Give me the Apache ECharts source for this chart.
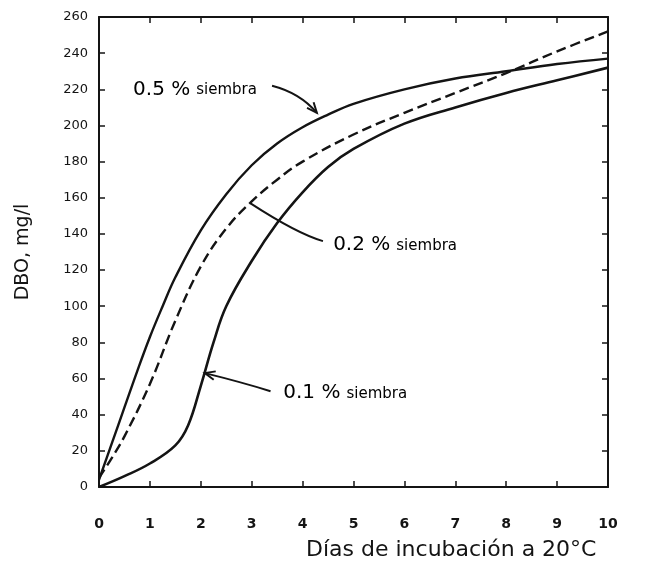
<!DOCTYPE html>
<html><head><meta charset="utf-8">
<script src="https://cdn.jsdelivr.net/npm/echarts@6/dist/echarts.min.js"></script>
<style>html,body{margin:0;padding:0;background:#fff;}#c{width:666px;height:578px;}</style>
</head><body><div id="c"></div>
<script>
// ---- data ----
const days05 = [0, 0.25, 0.5, 0.75, 1, 1.25, 1.5, 2, 2.5, 3, 3.5, 4, 4.5, 5, 6, 7, 8, 9, 10];
const dbo05  = [4, 24, 44, 64, 83, 100, 116, 142, 162, 178, 190, 199, 206, 212, 220, 226, 230, 234, 237];
const days02 = [0, 0.25, 0.5, 1, 1.5, 2, 2.5, 3, 3.5, 4, 5, 6, 7, 8, 9, 10];
const dbo02  = [5, 16, 28, 57, 92, 122, 143, 158, 170, 180, 195, 207, 218, 229, 241, 252];
const days01 = [0, 0.5, 1, 1.5, 1.75, 2, 2.25, 2.5, 3, 3.5, 4, 4.5, 5, 6, 7, 8, 9, 10];
const dbo01  = [0, 6, 13, 23, 34, 56, 80, 100, 125, 146, 163, 177, 187, 201, 210, 218, 225, 232];
const xTickLabels = ['0','1','2','3','4','5','6','7','8','9','10'];
const yTickLabels = ['0','20','40','60','80','100','120','140','160','180','200','220','240','260'];

const zip = (xs, ys) => xs.map((x, i) => [x, ys[i]]);
const ink = '#141414';

const chart = echarts.init(document.getElementById('c'), null, {renderer: 'canvas'});

const axisCommon = {
  type: 'value',
  axisLine: {show: true, onZero: false, lineStyle: {color: ink, width: 2}},
  axisTick: {show: true, inside: true, length: 6, lineStyle: {color: ink, width: 1.5}},
  splitLine: {show: false}
};

chart.setOption({
  animation: false,
  backgroundColor: '#fff',
  grid: {left: 99, right: 58, top: 17, bottom: 91, containLabel: false},
  xAxis: [
    Object.assign({}, axisCommon, {
      min: 0, max: 10, interval: 1, position: 'bottom',
      axisLabel: {margin: 30, fontSize: 14, fontWeight: 'bold', color: ink, fontFamily: 'DejaVu Sans',
        formatter: v => xTickLabels[Math.round(v)] ?? ''}
    }),
    Object.assign({}, axisCommon, {
      min: 0, max: 10, interval: 1, position: 'top', axisLabel: {show: false}
    })
  ],
  yAxis: [
    Object.assign({}, axisCommon, {
      min: 0, max: 260, interval: 20, position: 'left',
      name: 'DBO, mg/l', nameLocation: 'middle', nameGap: 66, nameRotate: 90,
      nameTextStyle: {fontSize: 19, color: ink, fontFamily: 'DejaVu Sans'},
      axisLabel: {margin: 11, fontSize: 13, color: ink, fontFamily: 'DejaVu Sans',
        formatter: v => yTickLabels[Math.round(v / 20)] ?? ''}
    }),
    Object.assign({}, axisCommon, {
      min: 0, max: 260, interval: 20, position: 'right', axisLabel: {show: false}
    })
  ],
  series: [
    {name: '0.5 % siembra', type: 'line', smooth: 0.4, showSymbol: false,
     lineStyle: {color: ink, width: 2.4}, data: zip(days05, dbo05)},
    {name: '0.2 % siembra', type: 'line', smooth: 0.4, showSymbol: false,
     lineStyle: {color: ink, width: 2.4, type: [10, 5]}, data: zip(days02, dbo02)},
    {name: '0.1 % siembra', type: 'line', smooth: 0.4, showSymbol: false,
     lineStyle: {color: ink, width: 2.6}, data: zip(days01, dbo01)}
  ]
});

// ---- annotations (anchored in data coordinates) ----
const P = (x, y) => chart.convertToPixel({xAxisIndex: 0, yAxisIndex: 0}, [x, y]);
const rich = {
  a: {fontSize: 20, color: ink, fontFamily: 'DejaVu Sans'},
  b: {fontSize: 15, color: '#2a2a2a', fontFamily: 'DejaVu Sans', padding: [2, 0, 0, 6]}
};
function label(text, pos) {
  const p = P(pos[0], pos[1]);
  const parts = text.split(' siembra');
  return {type: 'text', x: p[0], y: p[1],
    style: {text: '{a|' + parts[0] + '}{b|siembra}', rich: rich, verticalAlign: 'middle', align: 'left'}};
}
function arrow(from, ctrl, to, head) {
  const a = P(from[0], from[1]), c = P(ctrl[0], ctrl[1]), b = P(to[0], to[1]);
  const els = [{type: 'bezierCurve', shape: {x1: a[0], y1: a[1], x2: b[0], y2: b[1], cpx1: c[0], cpy1: c[1]},
    style: {stroke: ink, lineWidth: 2, fill: null}}];
  if (head) {
    const ang = Math.atan2(b[1] - c[1], b[0] - c[0]);
    const L = 11, w = 0.4;
    els.push({type: 'polyline', shape: {points: [
      [b[0] - L * Math.cos(ang - w), b[1] - L * Math.sin(ang - w)],
      [b[0], b[1]],
      [b[0] - L * Math.cos(ang + w), b[1] - L * Math.sin(ang + w)]]},
      style: {stroke: ink, lineWidth: 2, fill: null}});
  }
  return els;
}
const graphics = [].concat(
  [label('0.5 % siembra', [0.67, 220])],
  arrow([3.4, 222], [3.95, 218], [4.28, 207], true),
  [label('0.2 % siembra', [4.6, 134])],
  arrow([4.4, 136], [3.9, 140], [2.97, 157], false),
  [label('0.1 % siembra', [3.62, 52])],
  arrow([3.37, 53], [2.8, 58], [2.08, 63], true),
  [{type: 'text', left: 306, top: 539,
    style: {text: 'Días de incubación a 20°C', fontSize: 22, fill: ink, fontFamily: 'DejaVu Sans'}}]
);
chart.setOption({graphic: graphics});
</script>
</body></html>
